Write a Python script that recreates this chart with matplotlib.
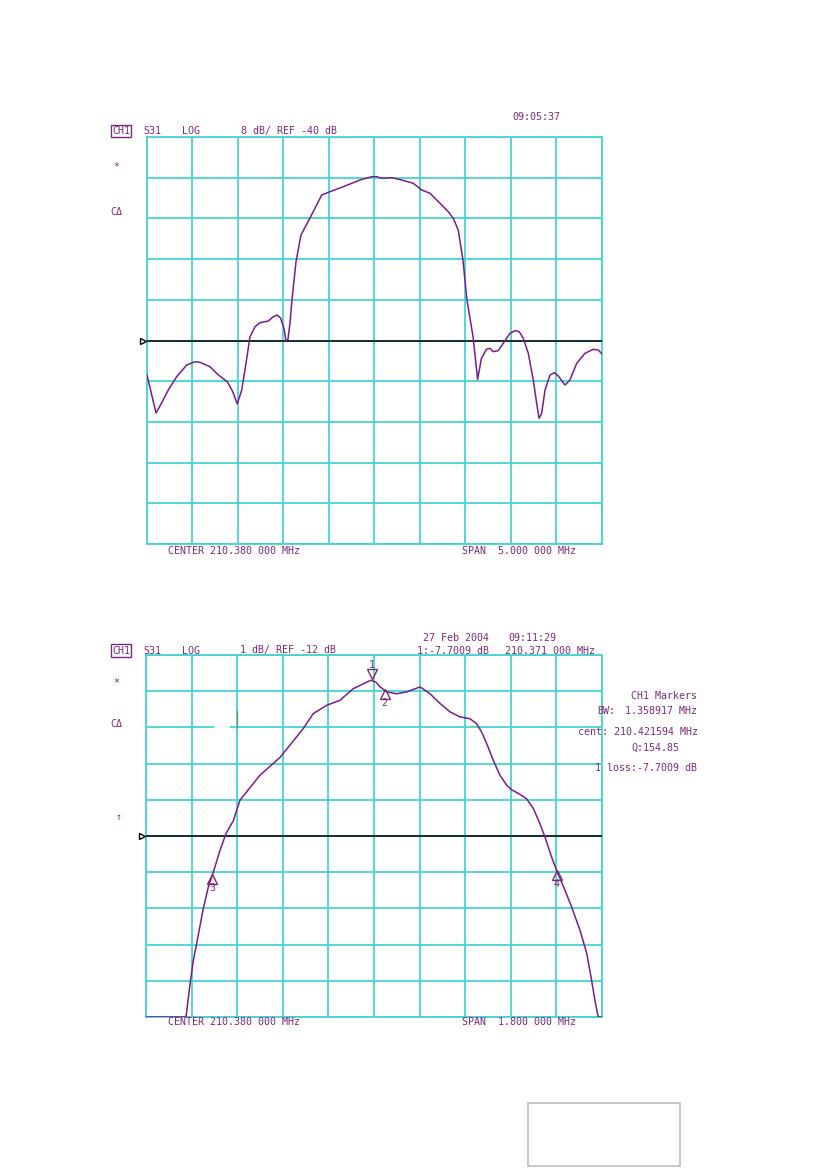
import numpy as np
import matplotlib
matplotlib.use("Agg")
import matplotlib.pyplot as plt
from matplotlib.patches import Rectangle
from matplotlib.lines import Line2D
from matplotlib.transforms import offset_copy

# ---- data read off the two analyser screens ----
# top screen: S31, 8 dB/div, ref -40 dB, center 210.38 MHz, span 5 MHz
top_freq = [207.880, 207.979, 208.023, 208.114, 208.206, 208.316, 208.407, 208.462,
            208.572, 208.664, 208.762, 208.822, 208.872, 208.921, 208.968, 209.012,
            209.067, 209.122, 209.213, 209.268, 209.312, 209.349, 209.385, 209.407,
            209.429, 209.451, 209.473, 209.517, 209.572, 209.671, 209.800, 209.891,
            210.037, 210.221, 210.349, 210.404, 210.459, 210.569, 210.679, 210.806,
            210.899, 210.990, 211.100, 211.191, 211.246, 211.300, 211.352, 211.396,
            211.463, 211.513, 211.555, 211.610, 211.649, 211.685, 211.740, 211.795,
            211.869, 211.924, 211.971, 212.015, 212.070, 212.125, 212.162, 212.188,
            212.217, 212.254, 212.309, 212.356, 212.400, 212.474, 212.528, 212.602,
            212.693, 212.784, 212.839, 212.880]
top_db = [-46.78, -54.25, -52.87, -49.73, -47.12, -44.82, -44.17, -44.29,
          -45.15, -46.78, -48.10, -50.06, -52.48, -49.73, -44.48, -39.25,
          -37.29, -36.50, -36.17, -35.32, -34.99, -35.64, -37.60, -40.04,
          -39.76, -36.62, -32.04, -24.57, -19.26, -15.92, -11.40, -10.75,
          -9.77, -8.45, -7.80, -7.80, -8.12, -8.00, -8.45, -9.10,
          -10.42, -11.07, -13.03, -14.68, -15.98, -18.28, -24.18, -32.04,
          -39.25, -47.63, -43.50, -41.73, -41.53, -42.20, -42.00, -40.55,
          -38.58, -38.07, -38.27, -39.57, -42.52, -47.76, -52.34, -55.29,
          -54.31, -49.73, -46.78, -46.33, -46.98, -48.75, -47.76, -44.48,
          -42.52, -41.73, -41.87, -42.65]

# bottom screen: S31, 1 dB/div, ref -12 dB, center 210.38 MHz, span 1.8 MHz
bot_freq = [209.480, 209.638, 209.654, 209.667, 209.680, 209.706, 209.726, 209.746,
            209.772, 209.796, 209.825, 209.851, 209.930, 210.009, 210.101, 210.140,
            210.193, 210.246, 210.298, 210.351, 210.368, 210.388, 210.404, 210.430,
            210.470, 210.509, 210.562, 210.601, 210.641, 210.680, 210.719, 210.759,
            210.785, 210.805, 210.825, 210.851, 210.877, 210.904, 210.923, 210.956,
            210.982, 211.009, 211.035, 211.055, 211.081, 211.103, 211.134, 211.160,
            211.193, 211.220, 211.239, 211.252, 211.265, 211.280]
bot_db = [-17.00, -17.00, -16.08, -15.43, -14.97, -14.01, -13.41, -12.99,
          -12.40, -11.93, -11.57, -11.01, -10.32, -9.83, -9.03, -8.62,
          -8.39, -8.25, -7.93, -7.75, -7.70, -7.75, -7.88, -8.02,
          -8.07, -8.02, -7.88, -8.07, -8.34, -8.57, -8.71, -8.76,
          -8.90, -9.13, -9.45, -9.91, -10.32, -10.60, -10.72, -10.85,
          -10.97, -11.24, -11.66, -12.03, -12.58, -12.99, -13.50, -13.96,
          -14.60, -15.25, -15.99, -16.54, -17.00, -17.00]

marker_ids = ["1", "2", "3", "4"]
marker_freq = [210.371, 210.4216, 209.742, 211.101]

top_header = ["S31", "LOG", "8 dB/ REF -40 dB"]
bot_header = ["S31", "LOG", "1 dB/ REF -12 dB", "1:-7.7009 dB", "210.371 000 MHz"]
marker_panel = ["CH1 Markers", "1.358917 MHz", "cent: 210.421594 MHz", "Q:154.85",
                "1 loss:-7.7009 dB"]

# ---- styling ----
W, H = 826, 1169
GRID = "#45d3d3"
TRACE = "#7a1c8c"
TXT = "#7b2a7b"
plt.rcParams['font.family'] = ['DejaVu Sans Mono', 'DejaVu Sans']
FS = 7.2

fig = plt.figure(figsize=(W / 100, H / 100), dpi=100)
fig.patch.set_facecolor("white")


def px_axes(x0, y0, x1, y1):
    return fig.add_axes([x0 / W, 1 - y1 / H, (x1 - x0) / W, (y1 - y0) / H])


def ftext(x, y, s, ha="left", **kw):
    fig.text(x / W, 1 - y / H, s, ha=ha, va="center", color=TXT, fontsize=FS, **kw)


def screen(ax, center, span, per_div, ref, freq, db):
    x0, x1 = center - span / 2, center + span / 2
    y0, y1 = ref - 5 * per_div, ref + 5 * per_div
    ax.set_xlim(x0, x1)
    ax.set_ylim(y0, y1)
    ax.set_xticks(np.linspace(x0, x1, 11))
    ax.set_yticks(np.linspace(y0, y1, 11))
    ax.tick_params(length=0, labelbottom=False, labelleft=False)
    ax.grid(True, color=GRID, lw=1.3)
    for sp in ax.spines.values():
        sp.set_color(GRID)
        sp.set_linewidth(1.3)
    ax.axhline(ref, color="black", lw=1.1, zorder=3)
    ax.plot([x0 - span * 0.008], [ref], marker=">", ms=4, mfc="white", mec="black",
            mew=1, clip_on=False, zorder=4)
    ax.plot(freq, db, color=TRACE, lw=1.1, zorder=5)
    return x0, x1


# top screen
ax1 = px_axes(147, 137, 602, 544)
screen(ax1, 210.38, 5.0, 8, -40, top_freq, top_db)

ftext(112, 131, "CH1", bbox=dict(boxstyle="square,pad=0.12", fc="white", ec=TXT, lw=1))
for x, s in zip([143, 182, 241], top_header):
    ftext(x, 131, s)
ftext(512, 117, "09:05:37")
ftext(113, 167, "*")
ftext(110, 212, "CΔ")
ftext(168, 551, "CENTER 210.380 000 MHz")
ftext(462, 551, "SPAN  5.000 000 MHz")

# bottom screen
ax2 = px_axes(146, 655, 602, 1017)
screen(ax2, 210.38, 1.8, 1, -12, bot_freq, bot_db)

# small scan artefacts on the 3rd grid line
ax2.add_line(Line2D([0.152, 0.180], [0.8, 0.8], transform=ax2.transAxes,
                    color="white", lw=2, zorder=2))
ax2.add_line(Line2D([0.2, 0.2], [0.8, 0.845], transform=ax2.transAxes,
                    color="#808080", lw=0.9, zorder=2))

# markers
for mid, mf in zip(marker_ids, marker_freq):
    md = np.interp(mf, bot_freq, bot_db)
    if mid == "1":
        tr = offset_copy(ax2.transData, fig=fig, x=0, y=5, units="points")
        ax2.plot([mf], [md], marker="v", ms=6.5, mfc="none", mec=TXT, mew=1,
                 transform=tr, zorder=6)
        ax2.text(mf, md, mid, transform=offset_copy(ax2.transData, fig=fig, x=0, y=11,
                 units="points"), ha="center", va="center", color=TXT, fontsize=FS)
    else:
        tr = offset_copy(ax2.transData, fig=fig, x=0, y=-3, units="points")
        ax2.plot([mf], [md], marker="^", ms=6.5, mfc="none", mec=TXT, mew=1,
                 transform=tr, zorder=6)
        ax2.text(mf, md, mid, transform=offset_copy(ax2.transData, fig=fig, x=0, y=-9.5,
                 units="points"), ha="center", va="center", color=TXT, fontsize=FS)

ftext(423, 638, "27 Feb 2004")
ftext(508, 638, "09:11:29")
ftext(112, 650.5, "CH1", bbox=dict(boxstyle="square,pad=0.12", fc="white", ec=TXT, lw=1))
for x, s in zip([143, 182, 240, 417, 505], bot_header):
    ftext(x, 650.5, s)
ftext(113, 683, "*")
ftext(110, 724, "CΔ")
ftext(116, 817, "↑")
ftext(168, 1022, "CENTER 210.380 000 MHz")
ftext(462, 1022, "SPAN  1.800 000 MHz")

# marker readout panel
ftext(697, 696, marker_panel[0], ha="right")
ftext(597, 711, "BW:")
ftext(697, 711, marker_panel[1], ha="right")
ftext(698, 732, marker_panel[2], ha="right")
ftext(679, 748, marker_panel[3], ha="right")
ftext(697, 768, marker_panel[4], ha="right")

# empty box bottom right
fig.patches.append(Rectangle((528 / W, 1 - 1166 / H), 152 / W, 63 / H,
                             transform=fig.transFigure, fill=False,
                             ec="#bdbdbd", lw=1.2))

fig.savefig("out.png", dpi=100, facecolor="white")
